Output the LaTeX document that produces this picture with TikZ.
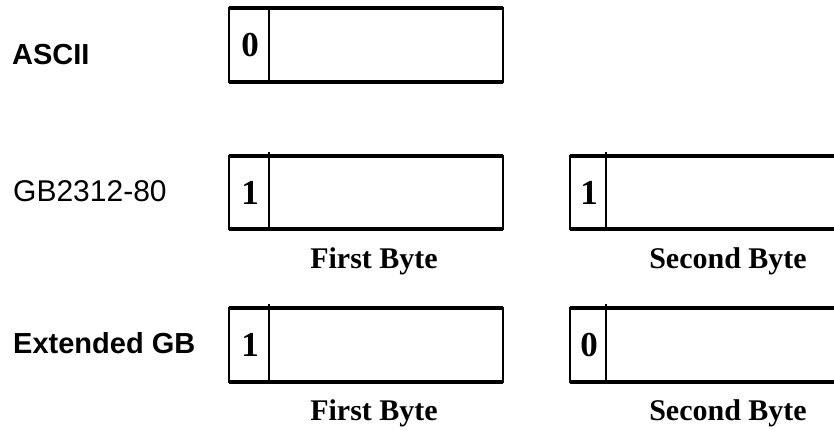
\documentclass[tikz,border=0pt]{standalone}
\usepackage{fontspec}
\setmainfont{Liberation Serif}
\newfontfamily\lsans{Liberation Sans}
\begin{document}
\begin{tikzpicture}[x=1pt,y=-1pt,
  cell/.style={draw=black,line width=2.2pt,inner sep=0pt,outer sep=0pt,anchor=north west},
  rowlabel/.style={font=\lsans\fontsize{29}{34}\selectfont,inner sep=0pt,anchor=base west},
  bytelabel/.style={font=\bfseries\fontsize{30}{34}\selectfont,inner sep=0pt,anchor=base},
  digit/.style={font=\bfseries\fontsize{35}{40}\selectfont,inner sep=0pt},
  edge/.style={line width=3.6pt},
  divider/.style={line width=2.8pt}]
\clip (0,0) rectangle (834,430);
\fill[white] (0,0) rectangle (834,430);

% row labels
\node[rowlabel,font=\lsans\bfseries\fontsize{29}{34}\selectfont] (lascii) at (12,65) {ASCII};
\node[rowlabel,font=\lsans\fontsize{30}{34}\selectfont] (lgb) at (13,202) {GB2312-80};
\node[rowlabel,font=\lsans\bfseries\fontsize{29}{34}\selectfont] (lext) at (13,353) {Extended GB};

% ASCII box
\node[cell,minimum width=274pt,minimum height=74pt] (a1) at (229,8) {};
\coordinate (a1d) at (269,8);
\draw[edge] (a1.north west) -- (a1.north east);
\draw[edge] (a1.south west) -- (a1.south east);
\draw[divider] (a1d) -- (a1d |- a1.south);
\node[digit] (a1v) at (250,45) {0};

% GB2312 row
\node[cell,minimum width=274pt,minimum height=73pt] (g1) at (229,156) {};
\node[cell,minimum width=274pt,minimum height=73pt] (g2) at (570,156) {};
\foreach \b/\dx in {g1/40,g2/36}{
  \draw[edge] (\b.north west) -- (\b.north east);
  \draw[edge] (\b.south west) -- (\b.south east);
  \draw[divider] ([xshift=\dx pt,yshift=4pt]\b.north west) -- ([xshift=\dx pt]\b.south west);
}
\node[digit] (g1v) at (250,193) {1};
\node[digit] (g2v) at (589,193) {1};
\node[bytelabel] (g1l) at (374,268) {First Byte};
\node[bytelabel] (g2l) at (728,268) {Second Byte};

% Extended GB row
\node[cell,minimum width=274pt,minimum height=74pt] (e1) at (229,308) {};
\node[cell,minimum width=274pt,minimum height=74pt] (e2) at (570,308) {};
\foreach \b/\dx in {e1/40,e2/36}{
  \draw[edge] (\b.north west) -- (\b.north east);
  \draw[edge] (\b.south west) -- (\b.south east);
  \draw[divider] ([xshift=\dx pt,yshift=4pt]\b.north west) -- ([xshift=\dx pt]\b.south west);
}
\node[digit] (e1v) at (250,345) {1};
\node[digit] (e2v) at (589,345) {0};
\node[bytelabel] (e1l) at (374,420) {First Byte};
\node[bytelabel] (e2l) at (728,420) {Second Byte};
\end{tikzpicture}
\end{document}
